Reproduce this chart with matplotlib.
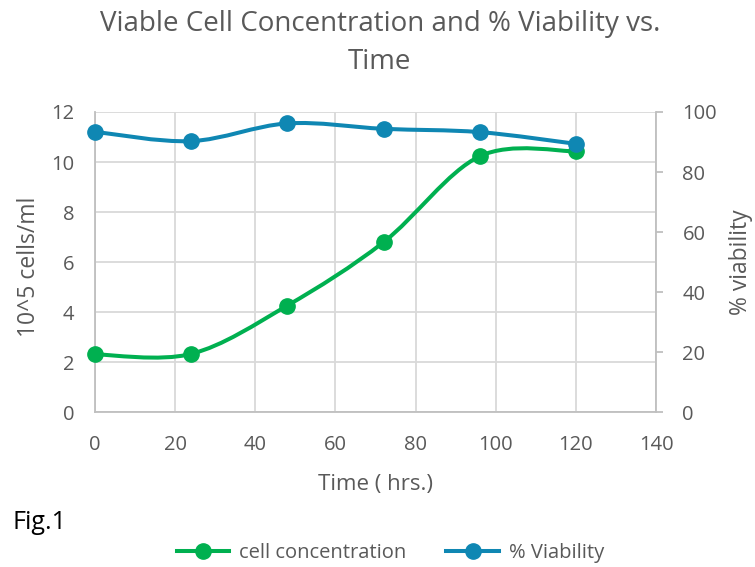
import matplotlib
matplotlib.use("Agg")
import matplotlib.pyplot as plt
from matplotlib.path import Path
from matplotlib.patches import PathPatch
from matplotlib.lines import Line2D

time_hrs = [0, 24, 48, 72, 96, 120]
cell_conc = [2.32, 2.34, 4.27, 6.8, 10.23, 10.43]
viability = [93.4, 90.3, 96.2, 94.4, 93.3, 89.4]

x_ticks = [0, 20, 40, 60, 80, 100, 120, 140]
left_ticks = [0, 2, 4, 6, 8, 10, 12]
right_ticks = [0, 20, 40, 60, 80, 100]

GREEN = "#00B050"
BLUE = "#0F87B3"
TEXT = "#595959"
GRID = "#D9D9D9"
AXIS = "#BFBFBF"
FONT = "Open Sans"

plt.rcParams["font.family"] = [FONT, "DejaVu Sans"]


def smooth_path(xs, ys):
    """Bezier path through the points, control points from neighbour tangents."""
    verts = [(xs[0], ys[0])]
    codes = [Path.MOVETO]
    n = len(xs)
    for i in range(n - 1):
        p0 = (xs[max(i - 1, 0)], ys[max(i - 1, 0)])
        p1 = (xs[i], ys[i])
        p2 = (xs[i + 1], ys[i + 1])
        p3 = (xs[min(i + 2, n - 1)], ys[min(i + 2, n - 1)])
        c1 = (p1[0] + (p2[0] - p0[0]) / 6, p1[1] + (p2[1] - p0[1]) / 6)
        c2 = (p2[0] - (p3[0] - p1[0]) / 6, p2[1] - (p3[1] - p1[1]) / 6)
        verts += [c1, c2, p2]
        codes += [Path.CURVE4] * 3
    return Path(verts, codes)


fig = plt.figure(figsize=(7.55, 5.67), dpi=100)
ax = fig.add_axes([0.1258, 0.2725, 0.7431, 0.530])
ax2 = ax.twinx()

ax.set_xlim(0, 140)
ax.set_ylim(0, 12)
ax2.set_ylim(0, 100)
ax.set_xticks(x_ticks)
ax.set_yticks(left_ticks)
ax2.set_yticks(right_ticks)

ax.grid(True, color=GRID, linewidth=1.3)
ax.set_axisbelow(True)

for a in (ax, ax2):
    for s in a.spines.values():
        s.set_visible(False)
ax.spines["left"].set_visible(True)
ax.spines["bottom"].set_visible(True)
ax.spines["left"].set_color(AXIS)
ax.spines["bottom"].set_color(AXIS)
ax.spines["left"].set_linewidth(1.3)
ax.spines["bottom"].set_linewidth(1.3)
ax2.spines["right"].set_visible(True)
ax2.spines["right"].set_color(AXIS)
ax2.spines["right"].set_linewidth(1.3)

ax.tick_params(axis="y", length=0, labelsize=14.5, labelcolor=TEXT, pad=15)
ax.tick_params(axis="x", length=0, labelsize=14.5, labelcolor=TEXT, pad=16)
ax2.tick_params(axis="y", length=5, width=1.3, color=AXIS, labelsize=14.5,
                labelcolor=TEXT, pad=14, direction="out")

lw = 2.9
ms = 11

ax.add_patch(PathPatch(smooth_path(time_hrs, cell_conc), facecolor="none",
                       edgecolor=GREEN, linewidth=lw, capstyle="round", zorder=3))
ax.plot(time_hrs, cell_conc, linestyle="none", marker="o", markersize=ms,
        color=GREEN, zorder=4, clip_on=False)

ax2.add_patch(PathPatch(smooth_path(time_hrs, viability), facecolor="none",
                        edgecolor=BLUE, linewidth=lw, capstyle="round", zorder=3))
ax2.plot(time_hrs, viability, linestyle="none", marker="o", markersize=ms,
         color=BLUE, zorder=4, clip_on=False)

ax.set_xlabel("Time ( hrs.)", fontsize=16, color=TEXT)
ax.set_ylabel("10^5 cells/ml", fontsize=16.5, color=TEXT)
ax2.set_ylabel("% viability", fontsize=16.5, color=TEXT)
ax.xaxis.set_label_coords(0.5, -0.238)
ax.xaxis.label.set_va("center")
ax.yaxis.set_label_coords(-0.1176, 0.484)
ax.yaxis.label.set_va("center")
ax2.yaxis.set_label_coords(1.1515, 0.5)
ax2.yaxis.label.set_va("center")

fig.text(0.503, 0.983, "Viable Cell Concentration and % Viability vs.\nTime",
         ha="center", va="top", fontsize=20, color=TEXT, linespacing=1.48)
fig.text(0.016, 0.078, "Fig.1", ha="left", va="center", fontsize=18, color="black")

handles = [
    Line2D([0], [0], color=GREEN, lw=lw, marker="o", markersize=ms),
    Line2D([0], [0], color=BLUE, lw=lw, marker="o", markersize=ms),
]
fig.legend(handles, ["cell concentration", "% Viability"], loc="center",
           bbox_to_anchor=(0.517, 0.024), ncol=2, frameon=False, fontsize=14.5,
           labelcolor=TEXT, handlelength=2.6, handletextpad=0.5, columnspacing=2.0)

fig.savefig("out.png", dpi=100)
